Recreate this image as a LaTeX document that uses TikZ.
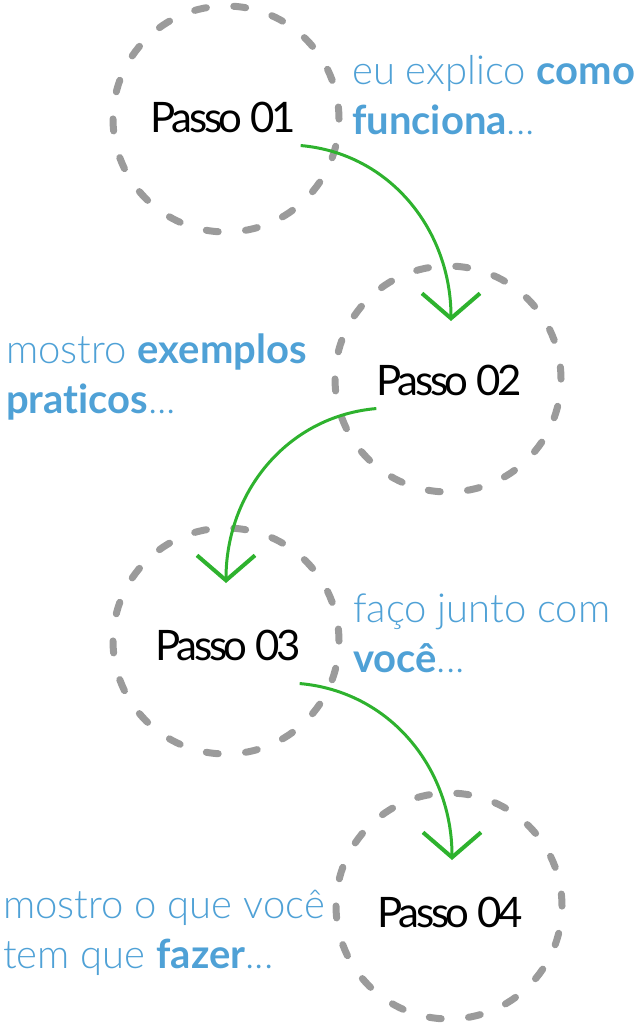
\documentclass[tikz,border=0pt]{standalone}
\usepackage{fontspec}
\setmainfont{Lato}[Ligatures={TeX,NoCommon}]
\newfontfamily\leve{Lato Light}[Ligatures={TeX,NoCommon}]
\newfontfamily\passofont[LetterSpace=-8]{Lato}
\usetikzlibrary{arrows.meta}
\definecolor{azul}{RGB}{79,161,214}
\definecolor{verde}{RGB}{46,178,46}
\definecolor{cinza}{RGB}{155,155,155}
\newcommand\forte[1]{{\rmfamily\bfseries #1}}

\begin{document}
\begin{tikzpicture}[x=1pt,y=-1pt,
        ring/.style={circle,draw=cinza,line width=7pt,minimum size=226pt,
            inner sep=0pt,dash pattern=on 12pt off 27.44pt,line cap=round},
        passo/.style={anchor=base,inner sep=2pt,
            font=\fontsize{42}{42}\selectfont\passofont},
        fala/.style={anchor=base west,align=left,inner sep=0pt,text=azul,
            font=\fontsize{40}{50}\selectfont\leve},
        seta/.style={draw=verde,line width=3pt,
            -{Straight Barb[length=25pt,width=58pt,line width=4pt]}}]
\useasboundingbox (0,0) rectangle (639,1024);

\node[ring] (c1) at (226,119) {};
\node[ring] (c2) at (448,379) {};
\node[ring] (c3) at (226,641) {};
\node[ring] (c4) at (449,906) {};

\node[passo] (p1) at (223,133) {Passo 01};
\node[passo] (p2) at (449,395) {Passo 02};
\node[passo] (p3) at (228,660) {Passo 03};
\node[passo] (p4) at (450,927) {Passo 04};

% base = linha de baixo
\node[fala] (t1) at (352,135) {eu explico \forte{como}\\\forte{funciona}...};
\node[fala] (t2) at (6,413) {mostro \forte{exemplos}\\\forte{praticos}...};
\node[fala] (t3) at (353,672) {faço junto com\\\forte{você}...};
\node[fala] (t4) at (3,968) {mostro o que você\\tem que \forte{fazer}...};

% setas entre os passos
\draw[seta] ([shift={(3pt,-10pt)}]p1.south east) to[out=-5,in=90]
    ([shift={(3pt,58pt)}]c2.center);
\draw[seta] ([shift={(2pt,-11pt)}]p2.south west) to[out=185,in=90]
    ([shift={(0pt,58pt)}]c3.center);
\draw[seta] ([shift={(-3pt,-21pt)}]p3.south east) to[out=-5,in=90]
    ([shift={(3pt,46pt)}]c4.center);
\end{tikzpicture}
\end{document}
